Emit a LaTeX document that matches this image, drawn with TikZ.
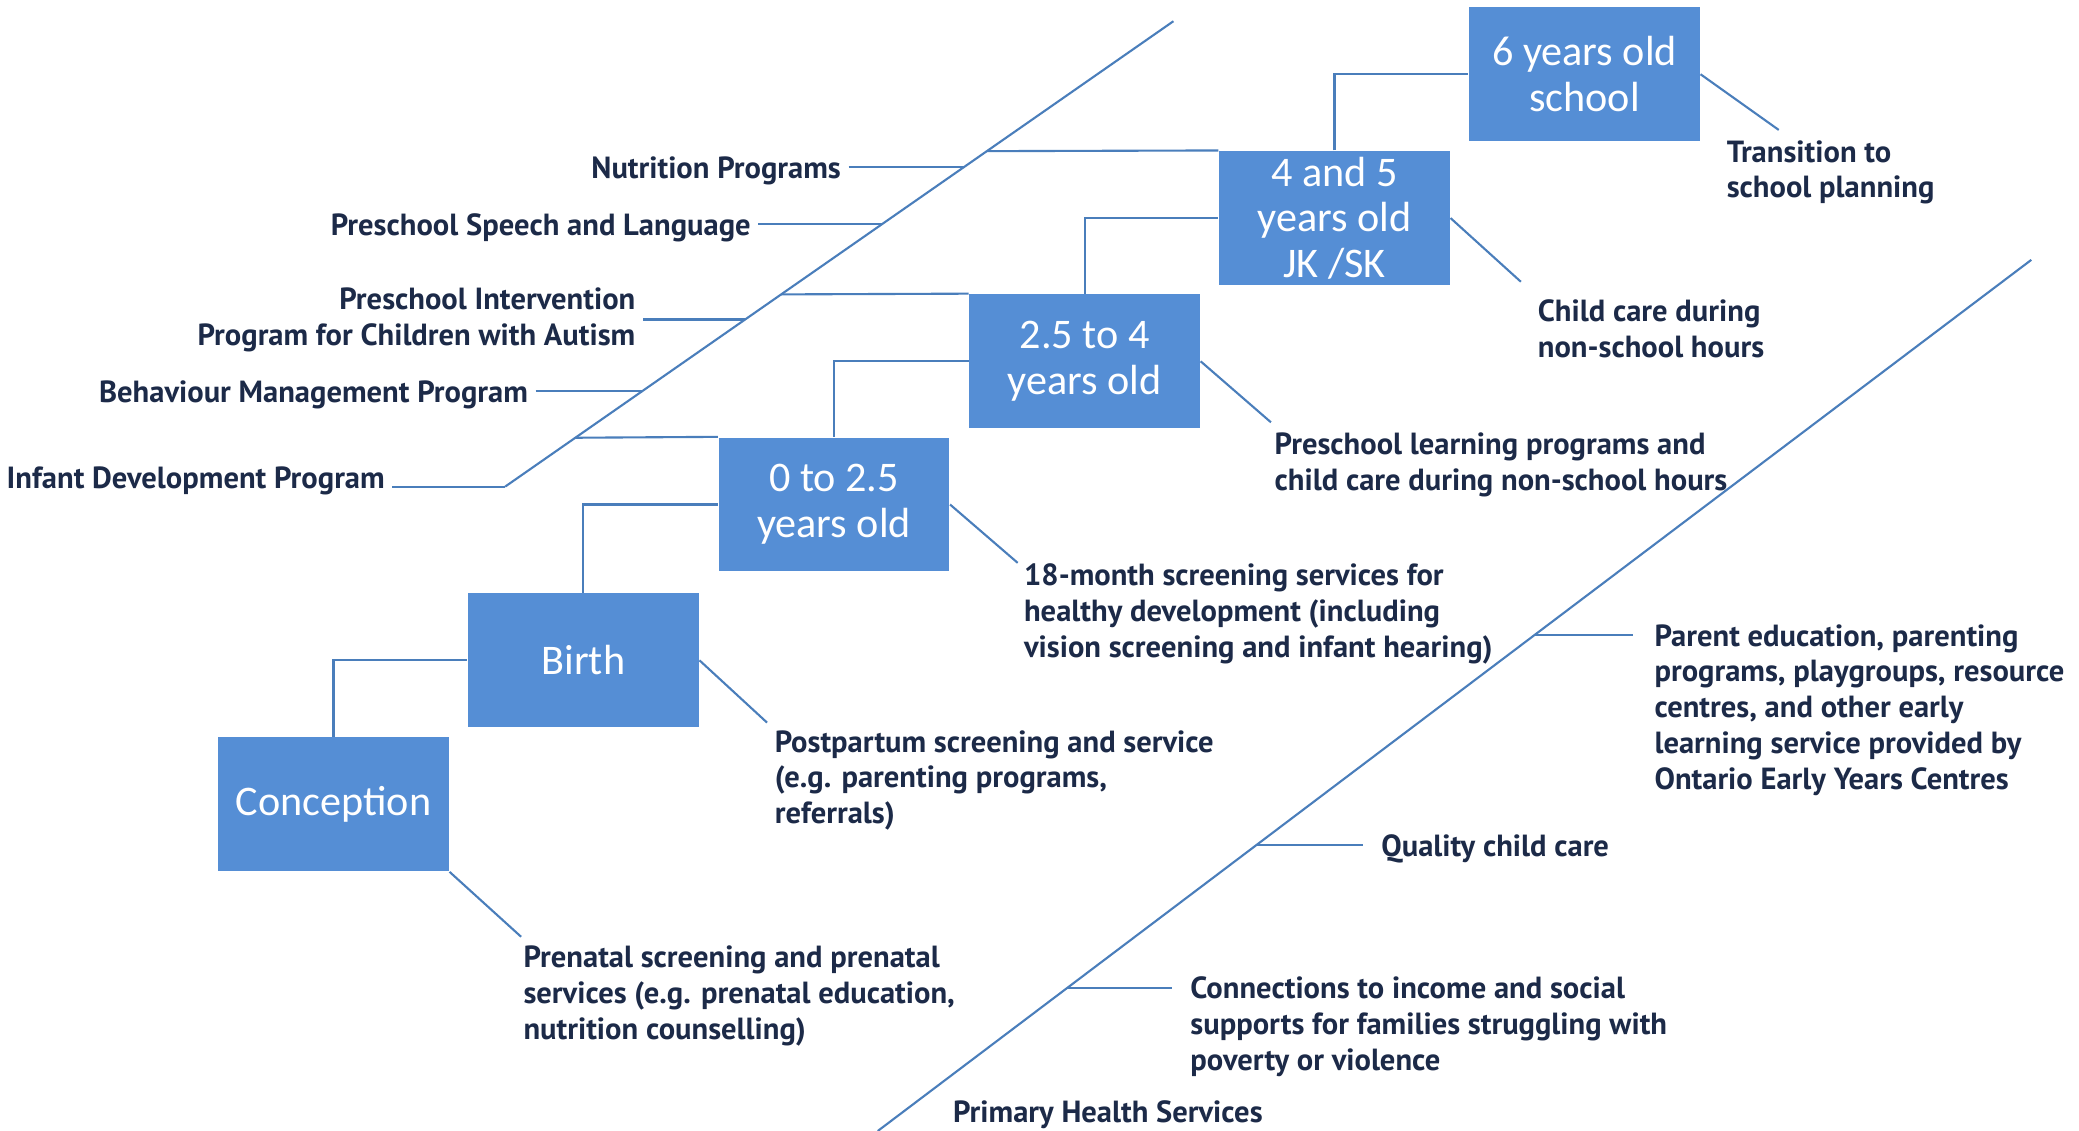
\documentclass[tikz,border=0pt]{standalone}
\usepackage{fontspec}
\setmainfont{PT Sans}
\newfontfamily\stagefont{Carlito}
\usepackage{tikz}
\usetikzlibrary{calc,positioning}

\definecolor{stageblue}{RGB}{85,142,213}
\definecolor{lineblue}{RGB}{74,126,187}
\definecolor{navy}{RGB}{28,42,72}

\begin{document}
\begin{tikzpicture}[x=0.01326cm,y=-0.01326cm]
    \tikzstyle{stage} = [
      rectangle,
      fill=stageblue,
      text=white,
      minimum width=2.307cm,
      minimum height=1.339cm,
      inner sep=0pt,
      align=center,
      font=\stagefont\fontsize{12}{13}\selectfont,
    ]
    \tikzstyle{note} = [
      inner sep=2pt,
      align=left,
      text=navy,
      font=\bfseries\fontsize{8.7}{10.2}\selectfont,
    ]
    \tikzstyle{link} = [
      draw=lineblue,
      line width=0.6pt,
    ]

    \useasboundingbox (0,0) rectangle (1568,853);

    % the stages, from conception up to school
    \node[stage] (conc) at (251.5,606.5) {Conception};
    \node[stage] (birth) at (440,498) {Birth};
    \node[stage] (zero) at (629,380.5) {0 to 2.5\\years old};
    \node[stage] (twohalf) at (818,272.5) {2.5 to 4\\years old};
    \node[stage] (four) at (1006.5,164.5) {4 and 5\\years old\\JK /SK};
    \node[stage] (six) at (1195,56) {6 years old\\school};

    \draw[link] (conc.north) |- (birth.west);
    \draw[link] (birth.north) |- (zero.west);
    \draw[link] (zero.north) |- (twohalf.west);
    \draw[link] (twohalf.north) |- (four.west);
    \draw[link] (four.north) |- (six.west);

    % services attached to each stage
    \coordinate (tconc) at ([shift={(54,49)}]conc.south east);
    \coordinate (tbirth) at ([shift={(51,47)}]birth.east);
    \coordinate (tzero) at ([shift={(51,44)}]zero.east);
    \coordinate (ttwohalf) at ([shift={(53,46)}]twohalf.east);
    \coordinate (tfour) at ([shift={(53,48)}]four.east);
    \coordinate (tsix) at ([shift={(59,42)}]six.east);

    \node[note,anchor=north west] (conclbl) at ([shift={(-4,1)}]tconc) {Prenatal screening and prenatal\\services (e.g. prenatal education,\\nutrition counselling)};
    \node[note,anchor=north west] (birthlbl) at ([shift={(0,0)}]tbirth) {Postpartum screening and service\\(e.g. parenting programs,\\referrals)};
    \node[note,anchor=north west] (zerolbl) at ([shift={(-1,-5)}]tzero) {18-month screening services for\\healthy development (including\\vision screening and infant hearing)};
    \node[note,anchor=north west] (twohalflbl) at ([shift={(-3,2)}]ttwohalf) {Preschool learning programs and\\child care during non-school hours};
    \node[note,anchor=north west] (fourlbl) at ([shift={(7,8)}]tfour) {Child care during\\non-school hours};
    \node[note,anchor=north west] (sixlbl) at ([shift={(-45,2)}]tsix) {Transition to\\school planning};

    \draw[link] (conc.south east) -- (tconc);
    \draw[link] (birth.east) -- (tbirth);
    \draw[link] (zero.east) -- (tzero);
    \draw[link] (twohalf.east) -- (ttwohalf);
    \draw[link] (four.east) -- (tfour);
    \draw[link] (six.east) -- (tsix);

    % community programs, upper left
    \coordinate (lbot) at (381,367);
    \coordinate (ltop) at (885,16);
    \draw[link] (lbot) -- (ltop);

    \coordinate (lnutr) at ($(lbot)!0.6866!(ltop)$);
    \coordinate (lspeech) at ($(lbot)!0.5641!(ltop)$);
    \coordinate (linterv) at ($(lbot)!0.359!(ltop)$);
    \coordinate (lbehav) at ($(lbot)!0.2051!(ltop)$);

    \node[note,anchor=east] (nutr) at (640,129) {Nutrition Programs};
    \node[note,anchor=east] (speech) at (572,172) {Preschool Speech and Language};
    \node[note,anchor=east,align=right] (interv) at (485,241.5) {Preschool Intervention\\Program for Children with Autism};
    \node[note,anchor=east] (behav) at (404,298) {Behaviour Management Program};
    \node[note,anchor=east] (infant) at (296,363) {Infant Development Program};

    \draw[link] (lnutr -| nutr.east) -- (lnutr);
    \draw[link] (lspeech -| speech.east) -- (lspeech);
    \draw[link] (linterv -| interv.east) -- (linterv);
    \draw[link] (lbehav -| behav.east) -- (lbehav);
    \draw[link] (lbot -| infant.east) -- (lbot);

    \draw[link] ($(lbot)!0.7208!(ltop)$) -- (four.north west);
    \draw[link] ($(lbot)!0.413!(ltop)$) -- (twohalf.north west);
    \draw[link] ($(lbot)!0.105!(ltop)$) -- (zero.north west);

    % primary health services, lower right
    \coordinate (rbot) at (662,853);
    \coordinate (rtop) at (1532,196);
    \draw[link] (rbot) -- (rtop);

    \coordinate (rparent) at ($(rbot)!0.5693!(rtop)$);
    \coordinate (rquality) at ($(rbot)!0.3288!(rtop)$);
    \coordinate (rconn) at ($(rbot)!0.1644!(rtop)$);

    \node[note,anchor=north west] (parent) at (1242,465) {Parent education, parenting\\programs, playgroups, resource\\centres, and other early\\learning service provided by\\Ontario Early Years Centres};
    \node[note,anchor=west] (quality) at (1036,640) {Quality child care};
    \node[note,anchor=north west] (conn) at (892,731) {Connections to income and social\\supports for families struggling with\\poverty or violence};
    \node[note,anchor=west] (primary) at (713,841) {Primary Health Services};

    \draw[link,shorten >=4pt] (rparent) -- (rparent -| parent.west);
    \draw[link,shorten >=3pt] (rquality) -- (rquality -| quality.west);
    \draw[link,shorten >=3pt] (rconn) -- (rconn -| conn.west);
\end{tikzpicture}
\end{document}
